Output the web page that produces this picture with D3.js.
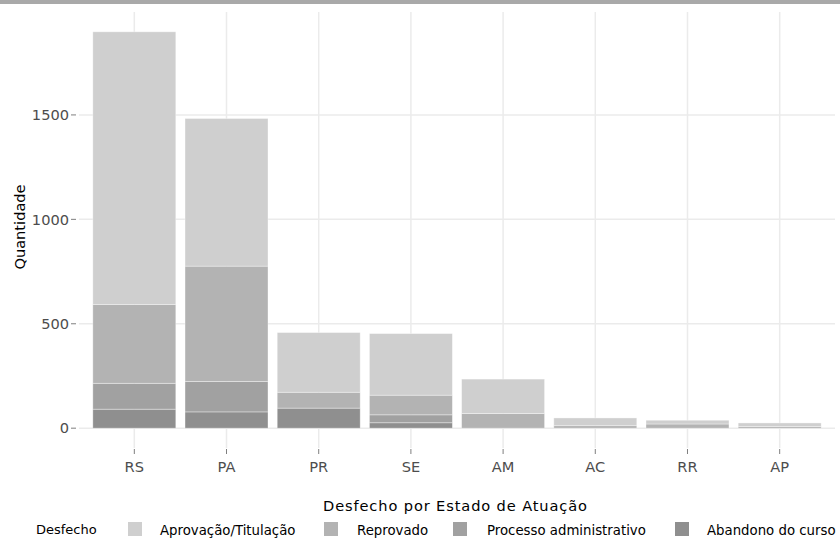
<!DOCTYPE html>
<html><head><meta charset="utf-8">
<script src="https://cdn.jsdelivr.net/npm/d3@7"></script>
<style>body{margin:0;background:#fff}svg{display:block;font-family:"DejaVu Sans",Verdana,sans-serif}</style>
</head><body><div id="chart"></div>
<script>
const categories = ["RS","PA","PR","SE","AM","AC","RR","AP"];
const seriesNames = ["Aprovação/Titulação","Reprovado","Processo administrativo","Abandono do curso"];
const aprovacao = [1306, 707, 286, 295, 165, 37, 18, 17];
const reprovado = [377, 552, 76, 94, 70, 12, 20, 8];
const processo = [124, 146, 0, 38, 0, 0, 0, 0];
const abandono = [91, 78, 96, 26, 0, 0, 0, 0];
const yTicks = [0, 500, 1000, 1500];
const colors = ["#cfcfcf","#b3b3b3","#a1a1a1","#8f8f8f"];

const W = 840, H = 541;
const m = {left: 79, right: 5, top: 12, bottom: 93};
const svg = d3.select("#chart").append("svg").attr("width", W).attr("height", H);
svg.append("rect").attr("x",0).attr("y",0).attr("width",W).attr("height",4).attr("fill","#a9a9a9");

const rows = categories.map((c,i)=>({cat:c, "Aprovação/Titulação":aprovacao[i], "Reprovado":reprovado[i], "Processo administrativo":processo[i], "Abandono do curso":abandono[i]}));
const stackOrder = ["Abandono do curso","Processo administrativo","Reprovado","Aprovação/Titulação"];
const stacked = d3.stack().keys(stackOrder)(rows);
const maxTotal = d3.max(rows, r => stackOrder.reduce((s,k)=>s+r[k],0));

const x = d3.scaleBand().domain(categories).range([m.left, W - m.right]).paddingInner(0).paddingOuter(0.1);
// discrete expansion 0.6 units on each side => range [0.4, 8.6]
const step = (W - m.right - m.left) / 8.2;
const cx = c => m.left + (categories.indexOf(c) + 0.6) * step;
const y = d3.scaleLinear().domain([-0.05*maxTotal, maxTotal*1.05]).range([H - m.bottom, m.top]);

const g = svg.append("g");
// grid
g.selectAll(".hg").data(yTicks).join("line")
  .attr("x1", m.left).attr("x2", W - m.right)
  .attr("y1", d=>y(d)).attr("y2", d=>y(d))
  .attr("stroke","#ebebeb").attr("stroke-width",1.5);
g.selectAll(".vg").data(categories).join("line")
  .attr("x1", d=>cx(d)).attr("x2", d=>cx(d))
  .attr("y1", m.top).attr("y2", H - m.bottom)
  .attr("stroke","#ebebeb").attr("stroke-width",1.5);

// bars
const bw = step * 0.9;
const colorOf = k => colors[seriesNames.indexOf(k)];
stacked.forEach(layer => {
  g.append("g").selectAll("rect").data(layer.filter(d => d[1]-d[0] > 0)).join("rect")
    .attr("x", d => cx(d.data.cat) - bw/2)
    .attr("width", bw)
    .attr("y", d => y(d[1]))
    .attr("height", d => y(d[0]) - y(d[1]))
    .attr("fill", colorOf(layer.key))
    .attr("stroke", "rgba(255,255,255,0.45)")
    .attr("stroke-width", 0.8);
});

// y axis
const yAx = svg.append("g");
yTicks.forEach(t => {
  yAx.append("line").attr("x1", 71).attr("x2", 76).attr("y1", y(t)).attr("y2", y(t)).attr("stroke","#7f7f7f").attr("stroke-width",1);
  yAx.append("text").attr("x", 69).attr("y", y(t)).attr("dy","0.36em").attr("text-anchor","end")
    .attr("font-size", 14.6).attr("fill","#4d4d4d").text(d3.format("")(t));
});
// x axis
const xAx = svg.append("g");
categories.forEach(c => {
  xAx.append("line").attr("x1", cx(c)).attr("x2", cx(c)).attr("y1", 449).attr("y2", 454).attr("stroke","#7f7f7f").attr("stroke-width",1);
  xAx.append("text").attr("x", cx(c)).attr("y", 467).attr("dy","0.36em").attr("text-anchor","middle")
    .attr("font-size", 14.6).attr("fill","#4d4d4d").text(c);
});

// titles
svg.append("text").attr("x", 455).attr("y", 506).attr("dy","0.36em").attr("text-anchor","middle")
  .attr("font-size", 14.6).attr("fill","#000").attr("textLength", 264).text("Desfecho por Estado de Atuação");
svg.append("text").attr("transform","translate(20,227) rotate(-90)").attr("dy","0.36em").attr("text-anchor","middle")
  .attr("font-size", 14.6).attr("fill","#000").text("Quantidade");

// legend
svg.append("text").attr("x", 36).attr("y", 529).attr("dy","0.36em").attr("font-size", 13).attr("fill","#000").text("Desfecho");
const legX = [128, 324, 453, 675];
const legTX = [160, 357, 487, 707];
seriesNames.forEach((s,i) => {
  svg.append("rect").attr("x", legX[i]).attr("y", 522).attr("width", 14).attr("height", 14).attr("fill", colors[i]);
  svg.append("text").attr("x", legTX[i]).attr("y", 530).attr("dy","0.36em").attr("font-size", 13.3).attr("fill","#000").text(s);
});
</script></body></html>
